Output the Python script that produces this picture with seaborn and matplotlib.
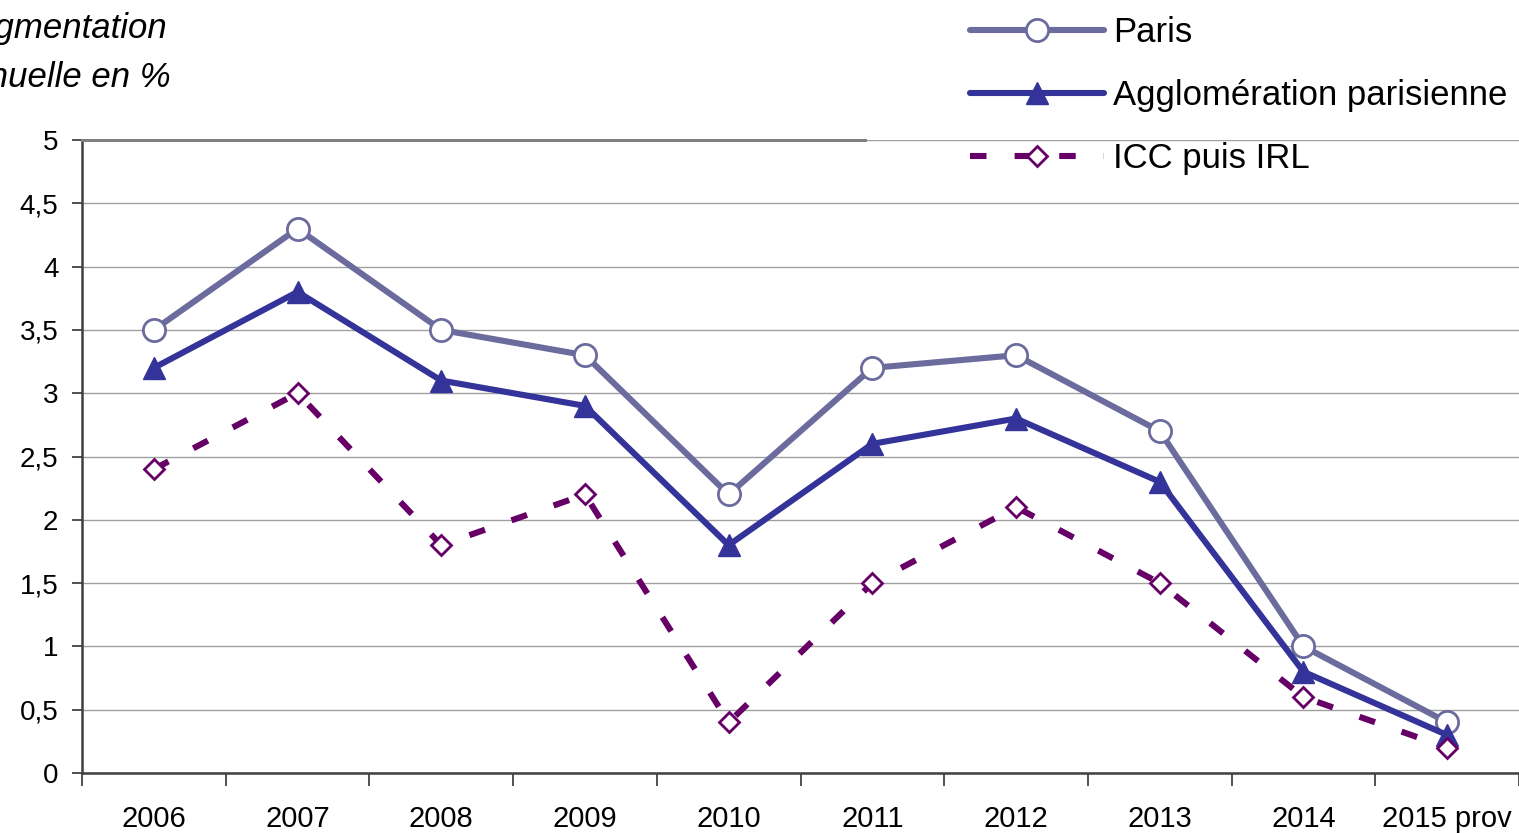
import matplotlib
matplotlib.use("Agg")
import matplotlib.pyplot as plt
import seaborn as sns
import pandas as pd
from matplotlib.ticker import FixedLocator

# ---- data ----
years = ["2006", "2007", "2008", "2009", "2010", "2011", "2012", "2013", "2014", "2015 prov"]
paris = [3.5, 4.3, 3.5, 3.3, 2.2, 3.2, 3.3, 2.7, 1.0, 0.4]
agglo = [3.2, 3.8, 3.1, 2.9, 1.8, 2.6, 2.8, 2.3, 0.8, 0.3]
icc = [2.4, 3.0, 1.8, 2.2, 0.4, 1.5, 2.1, 1.5, 0.6, 0.2]
series_names = ["Paris", "Agglomération parisienne", "ICC puis IRL"]
y_ticks = [0, 0.5, 1, 1.5, 2, 2.5, 3, 3.5, 4, 4.5, 5]
y_tick_labels = ["0", "0,5", "1", "1,5", "2", "2,5", "3", "3,5", "4", "4,5", "5"]
title_lines = ["Augmentation", "annuelle en %"]

sns.set_style("white")
plt.rcParams["font.family"] = ["Liberation Sans", "DejaVu Sans"]
plt.rcParams["text.color"] = "black"
plt.rcParams["xtick.color"] = "black"
plt.rcParams["ytick.color"] = "black"

W, H = 1519, 833
fig = plt.figure(figsize=(W / 100, H / 100), dpi=100)
ax = fig.add_axes([82 / W, 1 - 773 / H, 1 - 82 / W, (773 - 140) / H])

df = pd.DataFrame({"year": years, "paris": paris, "agglo": agglo, "icc": icc})

c_paris = "#6B6B9E"
c_agglo = "#333399"
c_icc = "#660066"

sns.lineplot(data=df, x="year", y="paris", ax=ax, sort=False, color=c_paris,
             linewidth=4.4, marker="o", markersize=16, markerfacecolor="white",
             markeredgecolor=c_paris, markeredgewidth=2.0, label=series_names[0])
sns.lineplot(data=df, x="year", y="agglo", ax=ax, sort=False, color=c_agglo,
             linewidth=4.4, marker="^", markersize=15.5, markerfacecolor=c_agglo,
             markeredgecolor=c_agglo, markeredgewidth=1.0, label=series_names[1])
sns.lineplot(data=df, x="year", y="icc", ax=ax, sort=False, color=c_icc,
             linewidth=4.4, marker="D", markersize=10.5, markerfacecolor="white",
             markeredgecolor=c_icc, markeredgewidth=2.0, label=series_names[2])
ax.lines[-1].set_dashes((2.7, 4.6))

ax.set_xlim(-0.5, len(years) - 0.5)
ax.set_ylim(0, 5)
ax.set_xlabel("")
ax.set_ylabel("")

# y axis
ax.set_yticks(y_ticks)
ax.set_yticklabels(y_tick_labels, fontsize=20)
ax.yaxis.grid(True, color="#A0A0A0", linewidth=1.0)
ax.set_axisbelow(True)
ax.tick_params(axis="y", which="major", length=7, width=1.2, color="#333333",
               pad=10, left=True, labelcolor="black")

# x axis: labels centred, ticks between categories
ax.set_xticks(range(len(years)))
ax.set_xticklabels(years, fontsize=21)
ax.xaxis.set_minor_locator(FixedLocator([i - 0.5 for i in range(len(years) + 1)]))
ax.tick_params(axis="x", which="major", length=0, pad=23, labelcolor="black")
ax.tick_params(axis="x", which="minor", length=9, width=1.2, color="#333333",
               bottom=True)

for s in ["left", "bottom"]:
    ax.spines[s].set_color("#404040")
    ax.spines[s].set_linewidth(1.8)
ax.spines["right"].set_visible(False)
ax.spines["top"].set_color("#808080")
ax.spines["top"].set_linewidth(2.2)
ax.spines["top"].set_bounds(-0.5, 4.95)

# legend
leg = ax.legend(loc="upper left", bbox_to_anchor=(970 / W, 1 - 16 / H),
                bbox_transform=fig.transFigure, frameon=False, fontsize=25,
                numpoints=1, handlelength=3.85, handletextpad=0.27,
                labelspacing=0.86, borderpad=0, borderaxespad=0)
for t in leg.get_texts():
    t.set_color("black")

# title (cut at the left edge as in the original)
fig.text(167 / W, 1 - 38 / H, title_lines[0], fontsize=25, style="italic",
         ha="right", va="baseline", color="black")
fig.text(171 / W, 1 - 87 / H, title_lines[1], fontsize=25, style="italic",
         ha="right", va="baseline", color="black")

fig.savefig("out.png", dpi=100)
